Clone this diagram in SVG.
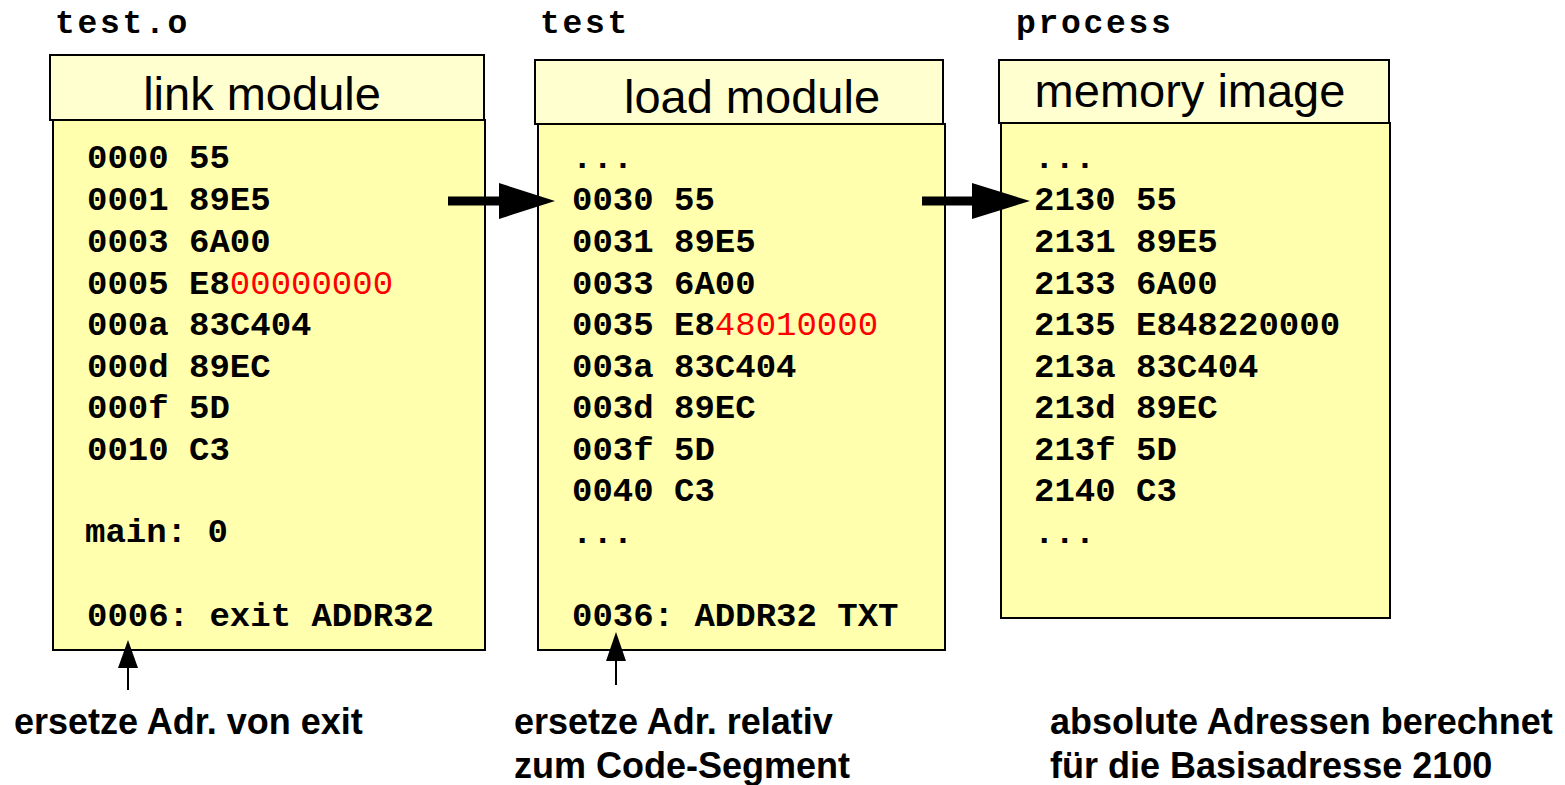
<svg xmlns="http://www.w3.org/2000/svg" width="1565" height="785" viewBox="0 0 1565 785">
<style>
.hdr{fill:#ffffd0;stroke:#000;stroke-width:2}
.body{fill:#ffffad;stroke:#000;stroke-width:2}
.ht{font-family:"Liberation Sans",Arial,sans-serif;font-size:47px;fill:#000;text-anchor:middle}
.code{font-family:"Liberation Mono","Courier New",monospace;font-size:34px;font-weight:bold;fill:#000}
.red{fill:#ff0000;font-weight:normal}
.ttl{font-family:"Liberation Mono","Courier New",monospace;font-size:33px;font-weight:bold;fill:#000;letter-spacing:2.7px}
.note{font-family:"Liberation Sans",Arial,sans-serif;font-size:36px;font-weight:bold;fill:#000}
.shaft{stroke:#000;fill:none}
</style>
<rect width="1565" height="785" fill="#fff"/>
<g id="titles">
<text class="ttl" x="55" y="33">test.o</text>
<text class="ttl" x="540" y="33">test</text>
<text class="ttl" x="1016" y="33">process</text>
</g>
<g id="link-module">
<rect class="body" x="53" y="120" width="432" height="530"/>
<rect class="hdr" x="50" y="55" width="434" height="65"/>
<text class="ht" x="262" y="110">link module</text>
<text class="code" x="87" y="168">0000 55</text>
<text class="code" x="87" y="210">0001 89E5</text>
<text class="code" x="87" y="252">0003 6A00</text>
<text class="code" x="87" y="294">0005 E8<tspan class="red">00000000</tspan></text>
<text class="code" x="87" y="335">000a 83C404</text>
<text class="code" x="87" y="377">000d 89EC</text>
<text class="code" x="87" y="418">000f 5D</text>
<text class="code" x="87" y="460">0010 C3</text>
<text class="code" x="85" y="542">main: 0</text>
<text class="code" x="87" y="626">0006: exit ADDR32</text>
</g>
<g id="load-module">
<rect class="body" x="538" y="124" width="407" height="526"/>
<rect class="hdr" x="535" y="60" width="408" height="64"/>
<text class="ht" x="752" y="113">load module</text>
<text class="code" x="572" y="168">...</text>
<text class="code" x="572" y="210">0030 55</text>
<text class="code" x="572" y="252">0031 89E5</text>
<text class="code" x="572" y="294">0033 6A00</text>
<text class="code" x="572" y="335">0035 E8<tspan class="red">48010000</tspan></text>
<text class="code" x="572" y="377">003a 83C404</text>
<text class="code" x="572" y="418">003d 89EC</text>
<text class="code" x="572" y="460">003f 5D</text>
<text class="code" x="572" y="501">0040 C3</text>
<text class="code" x="572" y="543">...</text>
<text class="code" x="572" y="626">0036: ADDR32 TXT</text>
</g>
<g id="memory-image">
<rect class="body" x="1001" y="123" width="389" height="495"/>
<rect class="hdr" x="999" y="60" width="390" height="63"/>
<text class="ht" x="1190" y="107">memory image</text>
<text class="code" x="1034" y="168">...</text>
<text class="code" x="1034" y="210">2130 55</text>
<text class="code" x="1034" y="252">2131 89E5</text>
<text class="code" x="1034" y="294">2133 6A00</text>
<text class="code" x="1034" y="335">2135 E848220000</text>
<text class="code" x="1034" y="377">213a 83C404</text>
<text class="code" x="1034" y="418">213d 89EC</text>
<text class="code" x="1034" y="460">213f 5D</text>
<text class="code" x="1034" y="501">2140 C3</text>
<text class="code" x="1034" y="543">...</text>
</g>
<g id="connectors">
<line class="shaft" x1="448" y1="201" x2="502" y2="201" stroke-width="9"/>
<polygon points="499,183 555,201 499,219" fill="#000"/>
<line class="shaft" x1="922" y1="201" x2="975" y2="201" stroke-width="9"/>
<polygon points="972,183 1030,201 972,219" fill="#000"/>
<line class="shaft" x1="128" y1="690" x2="128" y2="665" stroke-width="2"/>
<polygon points="118,668 128,640 138,668" fill="#000"/>
<line class="shaft" x1="616" y1="685" x2="616" y2="658" stroke-width="2"/>
<polygon points="606,661 616,632 626,661" fill="#000"/>
</g>
<g id="notes">
<text class="note" x="14" y="734">ersetze Adr. von exit</text>
<text class="note" x="514" y="734">ersetze Adr. relativ</text>
<text class="note" x="514" y="778">zum Code-Segment</text>
<text class="note" x="1050" y="734">absolute Adressen berechnet</text>
<text class="note" x="1050" y="778">für die Basisadresse 2100</text>
</g>
</svg>
